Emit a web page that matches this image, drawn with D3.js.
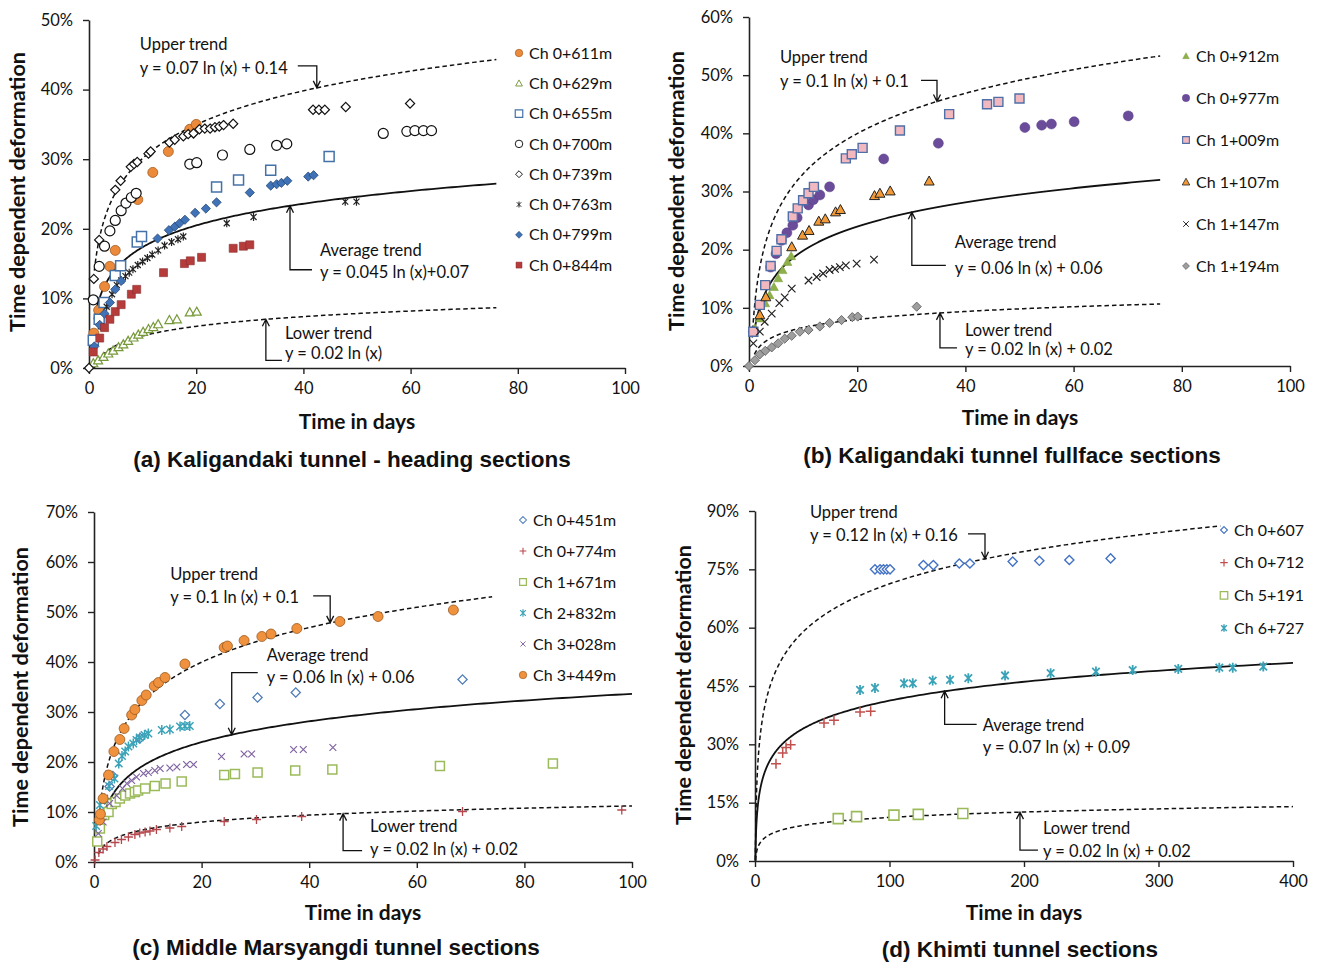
<!DOCTYPE html>
<html>
<head>
<meta charset="utf-8">
<script src="https://cdn.jsdelivr.net/npm/d3@7"></script>
<style>
body { margin: 0; background: #fff; }
svg { display: block; }
text { font-family: Lato, "Open Sans", sans-serif; fill: #111; }
</style>
</head>
<body>
<div id="chart"></div>
<script>
// ---- (a) Kaligandaki tunnel - heading sections  [day, % deformation]
const legendA = ["Ch 0+611m", "Ch 0+629m", "Ch 0+655m", "Ch 0+700m", "Ch 0+739m", "Ch 0+763m", "Ch 0+799m", "Ch 0+844m"]
const aCh611 = [[0.9,5.0],[1.8,8.3],[2.9,11.7],[3.9,14.6],[4.9,16.9],[9.1,24.2],[11.9,28.1],[14.8,31.1],[18.8,34.3],[20.0,35.0]]
const aCh629 = [[0.8,0.7],[1.7,1.1],[2.7,1.6],[3.6,2.1],[4.5,2.5],[5.5,3.0],[6.4,3.4],[7.3,3.9],[8.3,4.4],[9.2,4.8],[10.1,5.2],[11.1,5.6],[12.0,5.9],[12.9,6.3],[15.0,6.9],[16.4,7.0],[18.8,8.0],[20.1,8.1]]
const aCh655 = [[0.8,4.0],[1.9,7.0],[2.8,9.4],[4.9,13.3],[5.9,14.7],[9.0,18.1],[9.8,18.9],[23.8,26.0],[27.9,27.0],[33.9,28.4],[44.8,30.4]]
const aCh700 = [[0.8,9.8],[1.9,14.6],[2.9,17.5],[3.9,19.7],[4.9,21.2],[6.0,22.6],[6.9,23.7],[7.9,24.5],[8.8,25.1],[18.8,29.3],[20.1,29.5],[24.9,30.6],[30.0,31.4],[35.0,32.0],[36.9,32.2],[54.9,33.7],[59.3,34.0],[60.8,34.1],[62.4,34.1],[63.9,34.1]]
const aCh739 = [[0,0],[0.9,12.8],[1.9,18.4],[4.9,25.6],[5.9,26.9],[7.8,28.9],[8.4,29.3],[9.0,29.6],[11.1,30.8],[11.5,31.1],[15.0,32.4],[16.0,32.8],[17.6,33.3],[18.5,33.6],[19.5,33.7],[20.6,34.3],[21.6,34.4],[22.6,34.4],[23.5,34.6],[24.3,34.7],[25.1,34.9],[26.9,35.1],[41.8,37.1],[42.9,37.1],[44.0,37.1],[47.9,37.5],[59.9,38.0]]
const aCh763 = [[2.2,6.0],[3.3,8.8],[4.3,10.6],[5.2,11.9],[6.0,12.6],[6.8,13.2],[7.5,13.7],[8.2,14.2],[9.1,14.8],[10.0,15.3],[10.9,15.8],[11.8,16.3],[12.9,16.9],[14.1,17.6],[15.4,18.1],[16.6,18.5],[17.6,18.9],[25.7,20.8],[30.7,21.7],[47.8,23.9],[49.9,23.9]]
const aCh799 = [[1.0,3.1],[2.0,6.2],[2.9,7.8],[3.9,9.4],[4.9,11.3],[6.0,12.5],[12.8,18.6],[14.9,19.8],[16.0,20.3],[16.9,20.8],[17.9,21.3],[19.8,22.3],[21.8,22.9],[23.8,23.8],[30.0,25.2],[33.9,26.2],[35.0,26.4],[35.9,26.6],[37.0,26.9],[40.9,27.5],[41.9,27.7]]
const aCh844 = [[0.8,2.3],[2.0,4.3],[2.9,5.8],[3.9,7.0],[4.9,8.1],[6.0,9.1],[7.9,10.6],[8.9,11.3],[13.9,13.7],[17.8,15.0],[18.9,15.4],[21.0,15.9],[26.9,17.2],[28.8,17.5],[30.0,17.7]]

// ---- (b) Kaligandaki tunnel fullface sections
const legendB = ["Ch 0+912m", "Ch 0+977m", "Ch 1+009m", "Ch 1+107m", "Ch 1+147m", "Ch 1+194m"]
const bCh912 = [[1.1,6.5],[2.0,8.2],[3.0,10.8],[3.8,12.2],[4.6,13.6],[5.4,15.1],[6.2,16.5],[7.1,17.9],[7.8,18.9]]
const bCh977 = [[0.8,5.9],[4.0,17.0],[5.0,19.3],[6.0,21.6],[7.0,22.9],[8.1,24.2],[8.9,25.5],[11.0,27.7],[11.9,28.6],[13.1,29.4],[14.9,30.8],[24.9,35.6],[35.0,38.3],[51.0,41.0],[54.1,41.4],[55.9,41.6],[60.1,42.0],[70.1,43.0]]
const bCh1009 = [[0.8,5.9],[2.0,10.5],[3.0,13.9],[4.0,17.2],[5.1,19.8],[6.0,21.8],[8.1,25.7],[9.0,27.1],[10.0,28.5],[11.0,29.7],[12.0,30.8],[17.9,35.7],[19.0,36.4],[21.0,37.5],[27.9,40.5],[37.0,43.3],[44.0,45.0],[46.1,45.4],[50.0,46.0]]
const bCh1107 = [[2.0,8.8],[3.1,11.9],[7.9,20.5],[9.9,22.5],[11.1,23.3],[12.9,24.9],[14.1,25.3],[16.0,26.5],[16.9,26.9],[23.2,29.3],[24.2,29.7],[26.1,30.1],[33.3,31.8]]
const bCh1147 = [[0.8,3.9],[2.0,5.9],[2.9,7.6],[4.2,9.0],[5.6,10.8],[6.6,11.8],[7.9,13.3],[11.0,14.7],[12.5,15.3],[13.7,15.9],[14.9,16.5],[15.9,16.7],[16.8,17.0],[17.9,17.3],[19.9,17.6],[23.1,18.3]]
const bCh1194 = [[0,0],[1.1,1.0],[2.0,2.0],[3.0,2.6],[4.2,3.2],[5.4,3.9],[6.6,4.7],[7.9,5.2],[9.4,5.9],[11.0,6.2],[13.1,6.8],[14.9,7.4],[17.1,7.9],[19.1,8.4],[20.1,8.5],[31.0,10.2]]

// ---- (c) Middle Marsyangdi tunnel sections
const legendC = ["Ch 0+451m", "Ch 0+774m", "Ch 1+671m", "Ch 2+832m", "Ch 3+028m", "Ch 3+449m"]
const cCh451 = [[1.0,6.7],[2.0,12.5],[2.9,15.1],[3.5,17.2],[8.6,24.8],[16.9,29.4],[23.4,31.6],[30.4,32.9],[37.5,33.9],[68.5,36.5]]
const cCh774 = [[0.2,0.4],[0.9,1.9],[1.7,2.6],[2.4,3.1],[3.9,3.9],[5.1,4.5],[6.4,5.0],[7.6,5.5],[8.5,5.8],[9.5,6.0],[10.4,6.2],[11.6,6.5],[14.1,6.8],[16.3,7.1],[24.2,8.1],[30.2,8.5],[38.6,9.1],[68.5,10.1],[98.1,10.4]]
const cCh1671 = [[0.6,4.1],[1.1,6.7],[1.9,9.4],[2.7,10.0],[3.3,11.6],[4.0,12.0],[4.8,12.7],[5.8,13.3],[6.7,13.7],[7.6,14.0],[8.2,14.3],[9.5,14.7],[11.3,15.2],[13.3,15.7],[16.3,16.1],[24.2,17.4],[26.2,17.6],[30.4,17.9],[37.4,18.3],[44.3,18.5],[64.3,19.2],[85.3,19.7]]
const cCh2832 = [[0.4,7.2],[1.1,11.4],[1.9,12.7],[2.8,15.2],[3.8,16.7],[4.6,19.7],[5.2,21.2],[5.8,22.1],[6.4,23.1],[7.3,23.7],[7.9,24.4],[8.5,24.9],[9.4,25.4],[10.1,25.7],[12.6,26.4],[14.1,26.5],[16.0,27.1],[16.9,27.2],[17.8,27.2]]
const cCh3028 = [[0.8,5.7],[1.7,8.0],[2.9,11.7],[4.2,13.3],[5.3,14.7],[6.1,15.7],[7.0,16.3],[7.9,17.0],[9.2,17.7],[10.1,17.9],[11.3,18.3],[12.3,18.7],[14.1,18.8],[15.4,19.0],[17.2,19.5],[18.5,19.5],[23.7,21.1],[27.9,21.6],[29.3,21.6],[37.1,22.5],[38.9,22.5],[44.4,22.9]]
const cCh3449 = [[1.0,8.4],[1.2,9.6],[1.7,12.7],[2.7,17.4],[3.7,22.1],[4.8,24.5],[5.6,26.7],[7.0,29.4],[7.6,30.5],[8.9,32.3],[9.7,33.4],[11.2,35.2],[12.0,35.9],[13.2,36.9],[16.9,39.6],[24.2,42.9],[24.8,43.2],[27.9,44.3],[31.2,45.1],[32.9,45.6],[37.7,46.7],[45.7,48.1],[52.8,49.1],[66.8,50.4]]

// ---- (d) Khimti tunnel sections
const legendD = ["Ch 0+607", "Ch 0+712", "Ch 5+191", "Ch 6+727"]
const dCh607 = [[89.2,75.0],[93.0,75.0],[95.5,75.0],[98.0,75.0],[100.4,75.0],[125.2,76.1],[132.6,76.1],[151.9,76.5],[159.8,76.5],[191.6,77.0],[211.4,77.2],[233.7,77.4],[264.4,77.8]]
const dCh712 = [[15.6,25.0],[20.6,27.8],[23.1,29.2],[26.5,29.9],[51.3,35.5],[58.7,36.2],[78.1,38.3],[86.0,38.5]]
const dCh5191 = [[61.9,10.9],[75.5,11.4],[103.3,11.8],[121.4,12.0],[154.5,12.2]]
const dCh6727 = [[78.1,44.0],[89.2,44.5],[110.8,45.7],[117.3,45.7],[132.1,46.4],[145.0,46.6],[158.6,47.0],[185.9,47.7],[219.8,48.3],[253.5,48.7],[280.8,49.1],[314.7,49.4],[345.2,49.7],[355.2,49.7],[377.9,50.0]]

// trend lines: y = a ln(x) + b   -> [a, b, first day, last day]
const trendNames = ["Upper trend", "Average trend", "Lower trend"]
const trendsA = [[0.07, 0.14, 1, 76], [0.045, 0.07, 1, 76], [0.02, 0, 1, 76]]
const trendsB = [[0.1, 0.1, 0.6, 76], [0.06, 0.06, 1, 76], [0.02, 0.02, 1, 76]]
const trendsC = [[0.1, 0.1, 1, 74], [0.06, 0.06, 1, 100], [0.02, 0.02, 0.8, 100]]
const trendsD = [[0.12, 0.16, 0.27, 346], [0.07, 0.09, 0.28, 400], [0.02, 0.02, 0.4, 400]]
const equationsA = ["y = 0.07 ln (x) + 0.14", "y = 0.045 ln (x)+0.07", "y = 0.02 ln (x)"]
const equationsB = ["y = 0.1 ln (x) + 0.1", "y = 0.06 ln (x) + 0.06", "y = 0.02 ln (x) + 0.02"]
const equationsC = ["y = 0.1 ln (x) + 0.1", "y = 0.06 ln (x) + 0.06", "y = 0.02 ln (x) + 0.02"]
const equationsD = ["y = 0.12 ln (x) + 0.16", "y = 0.07 ln (x) + 0.09", "y = 0.02 ln (x) + 0.02"]

// ticks
const xTicks100 = [0, 20, 40, 60, 80, 100]
const xTicksD = [0, 100, 200, 300, 400]
const yTicksA = [0, 10, 20, 30, 40, 50]
const yTicksB = [0, 10, 20, 30, 40, 50, 60]
const yTicksC = [0, 10, 20, 30, 40, 50, 60, 70]
const yTicksD = [0, 15, 30, 45, 60, 75, 90]

const titles = ["(a) Kaligandaki tunnel - heading sections", "(b) Kaligandaki tunnel fullface sections",
    "(c) Middle Marsyangdi tunnel sections", "(d) Khimti tunnel sections"]

const svg = d3.select('#chart')
    .append('svg')
    .attr('width', 1320)
    .attr('height', 965)
svg.append("rect").attr("width", 1320).attr("height", 965).attr("fill", "#fff")

const markerPath = (type, s) => {
    const r = s / 2
    switch (type) {
        case "circle": return d3.symbol(d3.symbolCircle, Math.PI * r * r)()
        case "square": return `M${-r},${-r}h${2 * r}v${2 * r}h${-2 * r}Z`
        case "diamond": return `M0,${-r * 1.15}L${r * 1.15},0L0,${r * 1.15}L${-r * 1.15},0Z`
        case "triangle": return `M0,${-r}L${r},${r * 0.8}L${-r},${r * 0.8}Z`
        case "times": return `M${-r * 0.75},${-r * 0.75}L${r * 0.75},${r * 0.75}M${-r * 0.75},${r * 0.75}L${r * 0.75},${-r * 0.75}`
        case "plus": return `M${-r},0H${r}M0,${-r}V${r}`
        case "asterisk": return `M${-r * 0.75},${-r * 0.75}L${r * 0.75},${r * 0.75}M${-r * 0.75},${r * 0.75}L${r * 0.75},${-r * 0.75}M0,${-r}V${r}`
    }
}

const panels = [
    {
        left: 89, right: 625, top: 20, bottom: 368, xMax: 100, yMax: 50, xTicks: xTicks100, yTicks: yTicksA,
        xTitle: [357, 422], yTitle: [17, 192], title: [352, 459],
        legend: { x: 519, y: 53, step: 30.3, names: legendA },
        series: [
            { data: aCh611, type: "circle", size: 10, fill: "#EC8A3C", stroke: "#A25A1E", sw: 0.8 },
            { data: aCh629, type: "triangle", size: 9, fill: "#fff", stroke: "#77993A", sw: 1.2 },
            { data: aCh655, type: "square", size: 10, fill: "#fff", stroke: "#4472A8", sw: 1.5 },
            { data: aCh700, type: "circle", size: 10, fill: "#fff", stroke: "#111", sw: 1.2 },
            { data: aCh739, type: "diamond", size: 8, fill: "#fff", stroke: "#111", sw: 1.2 },
            { data: aCh763, type: "asterisk", size: 8, fill: "none", stroke: "#222", sw: 1.2 },
            { data: aCh799, type: "diamond", size: 8, fill: "#3F72B6", stroke: "#264775", sw: 0.8 },
            { data: aCh844, type: "square", size: 8, fill: "#B63C3C", stroke: "#8A2B2B", sw: 0.6 }
        ],
        trends: trendsA, equations: equationsA,
        notes: [
            { day: 42.5, cornerDy: -22, endDx: -19, textDx: -177, l1: -44, l2: -20 },
            { day: 37.5, cornerDy: 64, endDx: 22, textDx: 30, l1: 44, l2: 66 },
            { day: 33, cornerDy: 41, endDx: 16, textDx: 19, l1: 14, l2: 34 }
        ]
    },
    {
        left: 749, right: 1290, top: 17, bottom: 366, xMax: 100, yMax: 60, xTicks: xTicks100, yTicks: yTicksB,
        xTitle: [1020, 418], yTitle: [676, 191], title: [1012, 455],
        legend: { x: 1186, y: 56, step: 42, names: legendB },
        series: [
            { data: bCh912, type: "triangle", size: 9, fill: "#8DB04A", stroke: "#7A9C3C", sw: 0.5 },
            { data: bCh977, type: "circle", size: 10, fill: "#6B4C9A", stroke: "#5A3E86", sw: 0.5 },
            { data: bCh1009, type: "square", size: 9, fill: "#F2B8C0", stroke: "#4F6FA8", sw: 1.4 },
            { data: bCh1107, type: "triangle", size: 10, fill: "#F39A38", stroke: "#222", sw: 1 },
            { data: bCh1147, type: "times", size: 10, fill: "none", stroke: "#222", sw: 1.2 },
            { data: bCh1194, type: "diamond", size: 8, fill: "#9E9E9E", stroke: "#555", sw: 0.8 }
        ],
        trends: trendsB, equations: equationsB,
        notes: [
            { day: 34.75, cornerDy: -21, endDx: -16, textDx: -157, l1: -44, l2: -20 },
            { day: 30.1, cornerDy: 53, endDx: 34, textDx: 43, l1: 30, l2: 56 },
            { day: 35.3, cornerDy: 35, endDx: 17, textDx: 25, l1: 17, l2: 36 }
        ]
    },
    {
        left: 94, right: 632, top: 512, bottom: 862, xMax: 100, yMax: 70, xTicks: xTicks100, yTicks: yTicksC,
        xTitle: [363, 913], yTitle: [20, 687], title: [336, 947],
        legend: { x: 523, y: 520, step: 31, names: legendC },
        series: [
            { data: cCh451, type: "diamond", size: 8, fill: "#fff", stroke: "#4F7DB8", sw: 1.3 },
            { data: cCh774, type: "plus", size: 9, fill: "none", stroke: "#B5464B", sw: 1.3 },
            { data: cCh1671, type: "square", size: 9, fill: "#fff", stroke: "#9BBB59", sw: 1.5 },
            { data: cCh2832, type: "asterisk", size: 10, fill: "none", stroke: "#3BA3B8", sw: 1.5 },
            { data: cCh3028, type: "times", size: 9, fill: "none", stroke: "#8064A2", sw: 1.2 },
            { data: cCh3449, type: "circle", size: 10, fill: "#F0913E", stroke: "#9A5A20", sw: 0.8 }
        ],
        trends: trendsC, equations: equationsC,
        notes: [
            { day: 43.9, cornerDy: -27, endDx: -17, textDx: -160, l1: -49, l2: -26 },
            { day: 25.6, cornerDy: -62, endDx: 26, textDx: 35, l1: -79, l2: -57 },
            { day: 46.3, cornerDy: 37, endDx: 19, textDx: 27, l1: 13, l2: 36 }
        ]
    },
    {
        left: 755, right: 1293, top: 511, bottom: 861, xMax: 400, yMax: 90, xTicks: xTicksD, yTicks: yTicksD,
        xTitle: [1024, 913], yTitle: [683, 685], title: [1020, 949],
        legend: { x: 1224, y: 530, step: 32.7, names: legendD },
        series: [
            { data: dCh607, type: "diamond", size: 8, fill: "#fff", stroke: "#4472C4", sw: 1.4 },
            { data: dCh712, type: "plus", size: 10, fill: "none", stroke: "#C0504D", sw: 1.5 },
            { data: dCh5191, type: "square", size: 10, fill: "#fff", stroke: "#9BBB59", sw: 1.6 },
            { data: dCh6727, type: "asterisk", size: 10, fill: "none", stroke: "#3BA3B8", sw: 1.8 }
        ],
        trends: trendsD, equations: equationsD,
        notes: [
            { day: 171, cornerDy: -25, endDx: -17, textDx: -175, l1: -47, l2: -24 },
            { day: 141, cornerDy: 33, endDx: 32, textDx: 38, l1: 34, l2: 56 },
            { day: 197, cornerDy: 38, endDx: 18, textDx: 23, l1: 16, l2: 39 }
        ]
    }
]

panels.forEach((p, pi) => {
    const x = d3.scaleLinear([0, p.xMax], [p.left, p.right])
    const y = d3.scaleLinear([0, p.yMax], [p.bottom, p.top])
    const g = svg.append("g")

    // axes
    const xAxis = g.append("g")
        .attr("transform", `translate(0,${p.bottom})`)
        .call(d3.axisBottom(x).tickValues(p.xTicks).tickSize(6).tickSizeOuter(0).tickPadding(8))
    const yAxis = g.append("g")
        .attr("transform", `translate(${p.left},0)`)
        .call(d3.axisLeft(y).tickValues(p.yTicks).tickSize(6).tickSizeOuter(0).tickPadding(10).tickFormat(d => d + "%"))
    ;[xAxis, yAxis].forEach(a => {
        a.select(".domain").attr("stroke", "#222").attr("stroke-width", 1.6)
        a.selectAll(".tick line").attr("stroke", "#222").attr("stroke-width", 1.4)
        a.selectAll(".tick text").attr("font-family", "Lato, sans-serif").attr("font-size", 16.5).attr("fill", "#111")
    })

    // trend lines
    const line = d3.line().x(d => x(d[0])).y(d => y(d[1]))
    p.trends.forEach((t, i) => {
        const pts = d3.range(0, 301).map(k => {
            const d = t[2] * Math.pow(t[3] / t[2], k / 300)
            return [d, Math.max(0, (t[0] * Math.log(d) + t[1]) * 100)]
        })
        g.append("path")
            .attr("d", line(pts))
            .attr("fill", "none")
            .attr("stroke", "#111")
            .attr("stroke-width", i === 1 ? 1.8 : 1.5)
            .attr("stroke-dasharray", i === 1 ? null : "4.5,3")
    })

    // scatter series
    p.series.forEach(s => {
        g.append("g")
            .selectAll("path")
            .data(s.data)
            .join("path")
            .attr("transform", d => `translate(${x(d[0])},${y(d[1])})`)
            .attr("d", markerPath(s.type, s.size))
            .attr("fill", s.fill)
            .attr("stroke", s.stroke)
            .attr("stroke-width", s.sw)
    })

    // annotations with elbow arrows
    p.notes.forEach((n, i) => {
        const t = p.trends[i]
        const tx = x(n.day), ty = y((t[0] * Math.log(n.day) + t[1]) * 100)
        const cy = ty + n.cornerDy
        const dir = n.cornerDy < 0 ? 1 : -1
        g.append("path")
            .attr("d", `M${tx + n.endDx},${cy}H${tx}V${ty}M${tx - 3.5},${ty - dir * 7}L${tx},${ty}L${tx + 3.5},${ty - dir * 7}`)
            .attr("fill", "none")
            .attr("stroke", "#111")
            .attr("stroke-width", 1.3)
        g.append("text")
            .attr("x", tx + n.textDx).attr("y", ty + n.l1)
            .attr("dy", "0.35em").attr("font-size", 16.5)
            .text(trendNames[i])
        g.append("text")
            .attr("x", tx + n.textDx).attr("y", ty + n.l2)
            .attr("dy", "0.35em").attr("font-size", 16.5)
            .text(p.equations[i])
    })

    // legend
    const lg = g.append("g")
        .selectAll("g")
        .data(p.series)
        .join("g")
        .attr("transform", (d, i) => `translate(${p.legend.x},${p.legend.y + i * p.legend.step})`)
    lg.append("path")
        .attr("d", d => markerPath(d.type, d.size * 0.75))
        .attr("fill", d => d.fill)
        .attr("stroke", d => d.stroke)
        .attr("stroke-width", d => d.sw * 0.8)
    lg.append("text")
        .attr("x", 10)
        .attr("dy", "0.35em")
        .attr("font-size", 16)
        .text((d, i) => p.legend.names[i])

    // axis titles and caption
    g.append("text")
        .attr("x", p.xTitle[0]).attr("y", p.xTitle[1]).attr("dy", "0.35em")
        .attr("text-anchor", "middle").attr("font-weight", "bold").attr("font-size", 21)
        .text("Time in days")
    g.append("text")
        .attr("transform", `translate(${p.yTitle[0]},${p.yTitle[1]}) rotate(-90)`)
        .attr("dy", "0.35em")
        .attr("text-anchor", "middle").attr("font-weight", "bold").attr("font-size", 21.5)
        .text("Time dependent deformation")
    g.append("text")
        .attr("x", p.title[0]).attr("y", p.title[1]).attr("dy", "0.35em")
        .attr("text-anchor", "middle").attr("font-weight", "bold").attr("font-size", 22.5)
        .style("font-family", "'Liberation Sans', Arial, sans-serif")
        .text(titles[pi])
})
</script>
</body>
</html>
